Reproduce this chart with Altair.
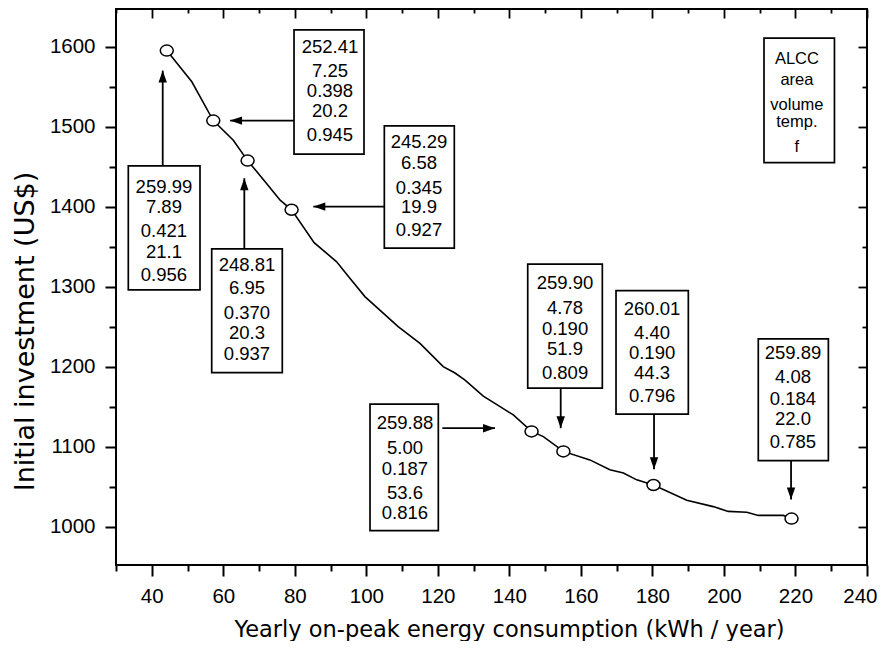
import altair as alt
import pandas as pd

# ---------------- data ----------------
curve_x = [44.2, 51.2, 53.5, 57.2, 62.8, 66.8, 72.1, 75.9, 79.1, 85.4, 91.7, 95.4,
           99.6, 108.9, 115.0, 121.5, 124.8, 127.6, 132.7, 137.4, 141.1, 146.2,
           149.5, 155.1, 162.5, 168.1, 171.9, 175.6, 180.3, 189.6, 197.0, 201.2,
           206.4, 209.6, 216.6, 218.9]
curve_y = [1595, 1556, 1537.5, 1507.5, 1483, 1457.5, 1429, 1408, 1396, 1355, 1331,
           1310.5, 1287.5, 1250, 1229, 1200, 1192, 1183, 1163, 1150, 1139.6, 1119,
           1112.5, 1094, 1083.4, 1071, 1067, 1058.4, 1052, 1033, 1025, 1019, 1018,
           1014, 1014, 1010]

point_x = [44.2, 57.2, 66.8, 79.1, 146.2, 155.1, 180.3, 218.9]
point_y = [1595, 1507.5, 1457.5, 1396, 1119, 1094, 1052, 1010]

box_left = [33.44, 79.78, 105.03, 56.76, 145.13, 169.82, 209.6, 101.03, 211.2]
box_right = [53.49, 99.35, 124.6, 76.5, 165.99, 190.04, 229.2, 120.13, 230.9]
box_bottom = [1295.9, 1465.5, 1348, 1192.5, 1173, 1140.5, 1082.5, 995, 1455]
box_top = [1450.9, 1620.9, 1500.9, 1347.1, 1328, 1295, 1234.6, 1153, 1610.5]

box_text = [
    ["259.99", "7.89", "0.421", "21.1", "0.956"],
    ["252.41", "7.25", "0.398", "20.2", "0.945"],
    ["245.29", "6.58", "0.345", "19.9", "0.927"],
    ["248.81", "6.95", "0.370", "20.3", "0.937"],
    ["259.90", "4.78", "0.190", "51.9", "0.809"],
    ["260.01", "4.40", "0.190", "44.3", "0.796"],
    ["259.89", "4.08", "0.184", "22.0", "0.785"],
    ["259.88", "5.00", "0.187", "53.6", "0.816"],
]
box_text_x = [43.4, 89.84, 114.73, 66.63, 155.56, 179.9, 219.3, 110.8]
box_text_y = [
    [1425, 1400, 1370, 1343.75, 1314.6],
    [1599.25, 1569.6, 1545, 1519.6, 1489.6],
    [1481.25, 1454.25, 1423.75, 1399.25, 1370.9],
    [1327.1, 1298, 1267.5, 1241.75, 1215.9],
    [1305, 1273.75, 1246.75, 1221.75, 1192.5],
    [1272.1, 1242.5, 1216.75, 1192.5, 1163.4],
    [1216.75, 1187.5, 1159.25, 1134.25, 1105.5],
    [1129.25, 1098.75, 1071.75, 1041.75, 1017.5],
]

legend_text = ["ALCC", "area", "volume", "temp.", "f"]
legend_x = 220.4
legend_y = [1578.4, 1552.1, 1520.9, 1499.6, 1468.75]

arrow_x0 = [43.06, 79.78, 105.03, 65.88, 154.35, 180.45, 218.76, 121.25]
arrow_y0 = [1450.9, 1507.5, 1400, 1347.1, 1173, 1140.5, 1082.5, 1123]
arrow_x1 = [43.06, 61.9, 85.17, 65.88, 154.35, 180.45, 218.76, 135.98]
arrow_y1 = [1570, 1507.5, 1400, 1435.5, 1123, 1071.75, 1034, 1123]
arrow_angle = [0, 270, 270, 0, 180, 180, 180, 90]

x_major = [40, 60, 80, 100, 120, 140, 160, 180, 200, 220, 240]
x_minor = [30, 50, 70, 90, 110, 130, 150, 170, 190, 210, 230]
y_major = [1000, 1100, 1200, 1300, 1400, 1500, 1600]
y_minor = [1050, 1150, 1250, 1350, 1450, 1550]

# ---------------- tables ----------------
df_curve = pd.DataFrame({"x": curve_x, "y": curve_y})
df_pts = pd.DataFrame({"x": point_x, "y": point_y})
df_box = pd.DataFrame({"x": box_left, "x2": box_right, "y": box_bottom, "y2": box_top})
rows = []
for tx, ys, ts in zip(box_text_x, box_text_y, box_text):
    for yy, tt in zip(ys, ts):
        rows.append({"x": tx, "y": yy, "t": tt})
df_txt = pd.DataFrame(rows)
df_leg = pd.DataFrame({"x": [legend_x] * len(legend_text), "y": legend_y, "t": legend_text})
df_arr = pd.DataFrame({"x": arrow_x0, "y": arrow_y0, "x2": arrow_x1, "y2": arrow_y1,
                       "tx": arrow_x1, "ty": arrow_y1, "a": arrow_angle})

xs = alt.Scale(domain=[30, 240], nice=False, zero=False)
ys_ = alt.Scale(domain=[952, 1647], nice=False, zero=False)

LAB = "Liberation Sans"
TIT = "DejaVu Sans"

def tick_axis(orient, values, size, offset=0, width=2):
    return alt.Axis(orient=orient, values=values, tickSize=size, offset=offset,
                    tickWidth=width, tickColor="black", labels=False, domain=False,
                    grid=False, title=None)

# line with main axes
line = alt.Chart(df_curve).mark_line(color="black", strokeWidth=1.6).encode(
    x=alt.X("x:Q", scale=xs, axis=alt.Axis(
        orient="bottom", values=x_major, format="d", tickSize=11, tickWidth=2,
        tickColor="black", labelFont=LAB, labelFontSize=20.5, labelColor="black",
        labelPadding=10, labelFlush=5, labelFlushOffset=10, labelOverlap=False,
        domain=False, grid=False,
        title="Yearly on-peak energy consumption (kWh / year)", titleFont=TIT,
        titleFontSize=22.5, titleFontWeight="normal", titleColor="black",
        titleX=393, titleY=71, titleBaseline="alphabetic", titleAlign="center")),
    y=alt.Y("y:Q", scale=ys_, axis=alt.Axis(
        orient="left", values=y_major, format="d", tickSize=11, tickWidth=2,
        tickColor="black", labelFont=LAB, labelFontSize=20.5, labelColor="black",
        labelPadding=10, labelFlush=False, labelOverlap=False, domain=False, grid=False,
        title="Initial investment (US$)", titleFont=TIT, titleFontSize=27,
        titleFontWeight="normal", titleColor="black", titleAngle=270,
        titleX=-83, titleY=322, titleBaseline="alphabetic", titleAlign="center")),
    order=alt.Order("x:Q"),
)

ellipse = "M-1,0A1,0.846,0,1,1,1,0A1,0.846,0,1,1,-1,0Z"
pts = alt.Chart(df_pts).mark_point(shape=ellipse, size=169, filled=True, fill="white",
                                   stroke="black", strokeWidth=1.5, opacity=1).encode(
    x=alt.X("x:Q", scale=xs, axis=tick_axis("bottom", x_minor, 6)),
    y=alt.Y("y:Q", scale=ys_, axis=tick_axis("left", y_minor, 7)),
)

boxes = alt.Chart(df_box).mark_rect(fill="white", stroke="black", strokeWidth=1.7).encode(
    x=alt.X("x:Q", scale=xs, axis=tick_axis("top", x_major, 9, offset=-9, width=1.8)),
    x2="x2:Q",
    y=alt.Y("y:Q", scale=ys_, axis=tick_axis("right", y_major, 9, offset=-9, width=1.8)),
    y2="y2:Q",
)

texts = alt.Chart(df_txt).mark_text(font=LAB, fontSize=18.5, color="black",
                                    align="center", baseline="middle").encode(
    x=alt.X("x:Q", scale=xs, axis=tick_axis("top", x_minor, 4, offset=-4, width=1.8)),
    y=alt.Y("y:Q", scale=ys_, axis=tick_axis("right", y_minor, 5, offset=-5, width=1.8)),
    text="t:N",
)

legend = alt.Chart(df_leg).mark_text(font=LAB, fontSize=16.5, color="black",
                                     align="center", baseline="alphabetic").encode(
    x=alt.X("x:Q", scale=xs, axis=None),
    y=alt.Y("y:Q", scale=ys_, axis=None),
    text="t:N",
)

shafts = alt.Chart(df_arr).mark_rule(color="black", strokeWidth=1.8).encode(
    x=alt.X("x:Q", scale=xs, axis=None),
    y=alt.Y("y:Q", scale=ys_, axis=None),
    x2="x2:Q",
    y2="y2:Q",
)

head = "M0,0L0.35,1L-0.35,1Z"
heads = alt.Chart(df_arr).mark_point(shape=head, size=576, filled=True, color="black",
                                     opacity=1, strokeWidth=0).encode(
    x=alt.X("tx:Q", scale=xs, axis=None),
    y=alt.Y("ty:Q", scale=ys_, axis=None),
    angle=alt.Angle("a:Q", scale=None),
)

chart = alt.layer(line, pts, boxes, texts, legend, shafts, heads).resolve_axis(
    x="independent", y="independent"
).properties(
    width=751, height=556,
    padding={"left": 108, "top": 1, "right": 11, "bottom": 76},
    autosize=alt.AutoSizeParams(type="none"),
    background="white",
).configure_view(stroke="black", strokeWidth=2)

chart.save("out.html", embed_options={"renderer": "svg", "actions": False})
